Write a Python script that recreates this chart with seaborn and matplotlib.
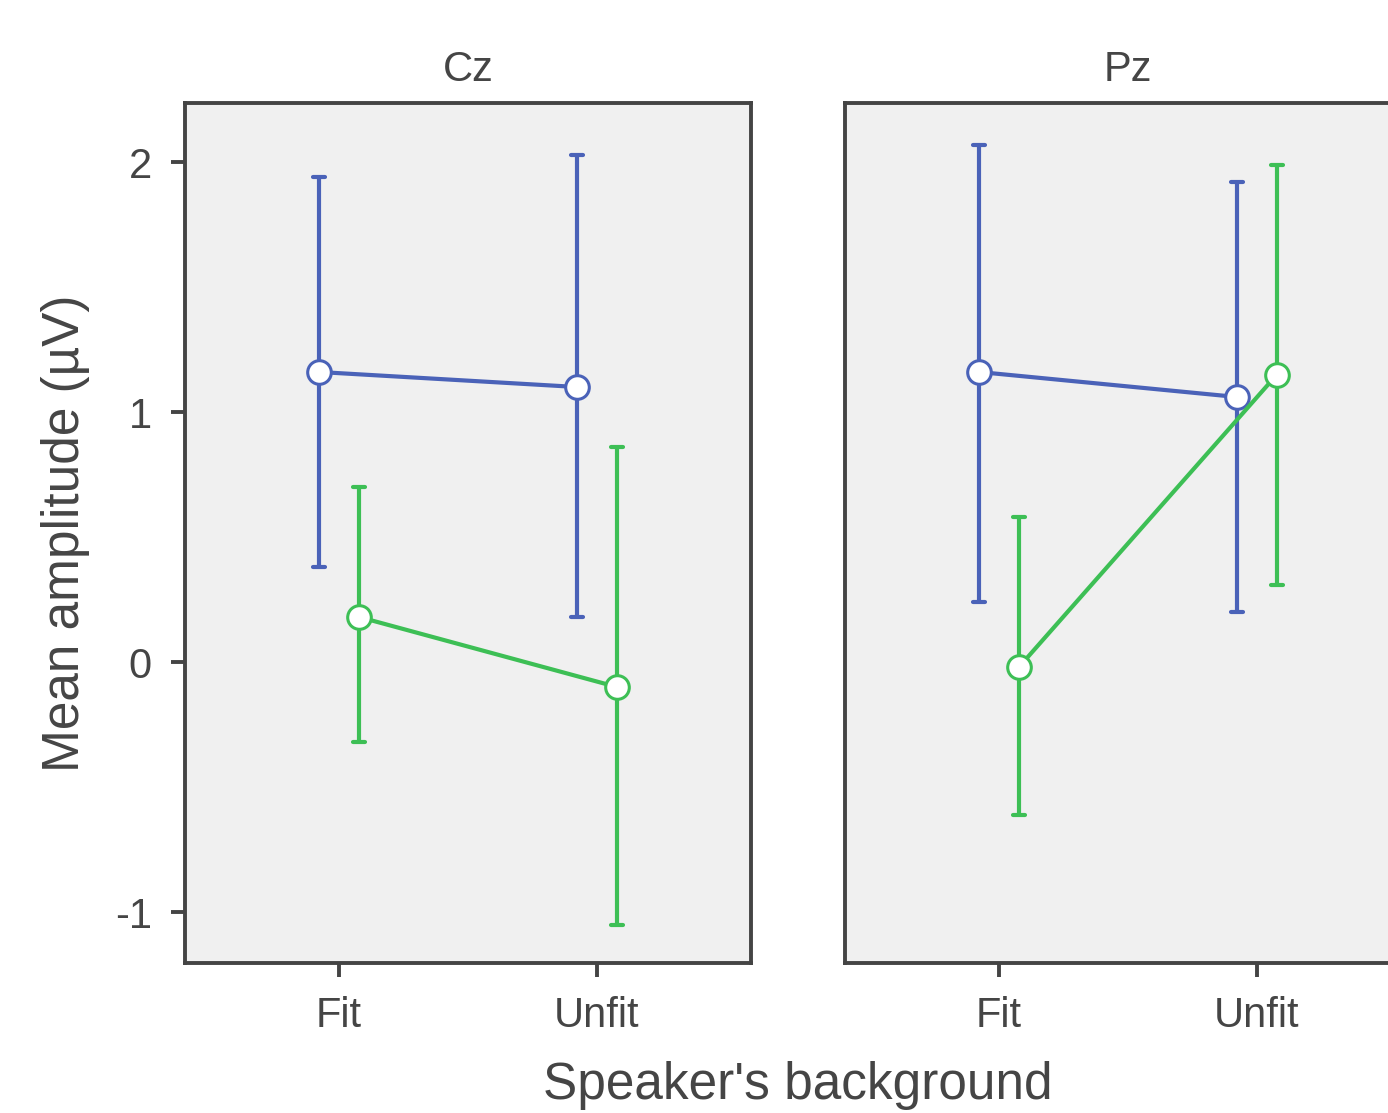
import numpy as np
import pandas as pd
import matplotlib
matplotlib.use("Agg")
import matplotlib.pyplot as plt
import seaborn as sns

# values
panels = ["Cz", "Pz"]
backgrounds = ["Fit", "Unfit"]
groups = ["A", "B"]

# mean, lower CI, upper CI per panel -> group -> background (Fit, Unfit)
cz_mean = {"A": [1.16, 1.10], "B": [0.18, -0.10]}
cz_low = {"A": [0.38, 0.18], "B": [-0.32, -1.05]}
cz_high = {"A": [1.94, 2.03], "B": [0.70, 0.86]}

pz_mean = {"A": [1.16, 1.06], "B": [-0.02, 1.15]}
pz_low = {"A": [0.24, 0.20], "B": [-0.61, 0.31]}
pz_high = {"A": [2.07, 1.92], "B": [0.58, 1.99]}

colors = ["#4a62b8", "#3dbf55"]
text_col = "#454545"

rows = []
for panel, m, lo, hi in [("Cz", cz_mean, cz_low, cz_high), ("Pz", pz_mean, pz_low, pz_high)]:
    for g in groups:
        for i, b in enumerate(backgrounds):
            for v in (lo[g][i], m[g][i], hi[g][i]):
                rows.append({"panel": panel, "group": g, "background": b, "value": v})
df = pd.DataFrame(rows)

sns.set_style("white")
plt.rcParams["font.family"] = ["Liberation Sans", "DejaVu Sans"]
plt.rcParams["text.color"] = text_col
plt.rcParams["xtick.color"] = text_col
plt.rcParams["ytick.color"] = text_col
plt.rcParams["axes.unicode_minus"] = False

fig = plt.figure(figsize=(13.88, 11.13), dpi=100)
W, H = 1388, 1113
ax_w, ax_h = 566 / W, 860 / H
bottom = 150 / H
lefts = [185 / W, 845 / W]

axes = []
for k, panel in enumerate(panels):
    ax = fig.add_axes([lefts[k], bottom, ax_w, ax_h], sharey=axes[0] if axes else None)
    axes.append(ax)
    sub = df[df["panel"] == panel]
    sns.pointplot(
        data=sub, x="background", y="value", hue="group",
        order=backgrounds, hue_order=groups, palette=colors,
        estimator=np.median, errorbar=lambda v: (v.min(), v.max()),
        dodge=0.155, capsize=0.05, markers="o",
        ax=ax, legend=False,
    )
    for line in ax.lines:
        line.set_linewidth(3.0)
        if line.get_marker() not in (None, "None", "", " "):
            # white-filled markers on top of the error bars
            line.set_fillstyle("full")
            line.set_markerfacecolor("white")
            line.set_markersize(17)
            line.set_markeredgewidth(2.2)
            line.set_zorder(5)
    ax.set_facecolor("#f0f0f0")
    for s in ax.spines.values():
        s.set_color("#444444")
        s.set_linewidth(2.8)
        s.set_visible(True)
    ax.set_xlim(-0.597, 1.597)
    ax.set_ylim(-1.204, 2.236)
    ax.set_yticks([-1, 0, 1, 2])
    ax.set_xlabel("")
    ax.set_ylabel("")
    ax.set_title(panel, fontsize=30, color=text_col, pad=16)
    ax.tick_params(axis="both", direction="out", length=10, width=2.8,
                   color="#444444", labelsize=30, pad=14,
                   bottom=True, left=True)
    if k == 1:
        ax.tick_params(axis="y", left=False, labelleft=False)

axes[0].set_ylabel("Mean amplitude (\u00b5V)", fontsize=37, color=text_col, labelpad=18)
fig.text(798 / W, 28 / H, "Speaker's background", fontsize=37, color=text_col,
         ha="center", va="center")

fig.savefig("out.png", dpi=100)
